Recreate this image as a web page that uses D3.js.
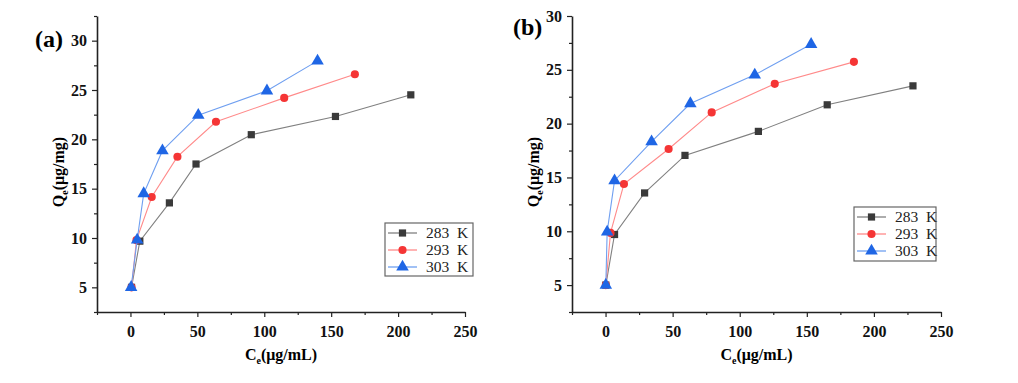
<!DOCTYPE html>
<html>
<head>
<meta charset="utf-8">
<script src="https://cdn.jsdelivr.net/npm/d3@7"></script>
<style>
  body { margin: 0; background: #fff; }
  svg { display: block; }
  .tick text { font-family: "Liberation Serif", "Times New Roman", serif; font-weight: bold; font-size: 16px; fill: #111; }
  .legend text { font-family: "Liberation Serif", serif; font-size: 15.5px; fill: #222; white-space: pre; }
</style>
</head>
<body>
<script>
// series names and tick values
const seriesNames = ["283\u2002K", "293\u2002K", "303\u2002K"];
const xTicks = [0, 50, 100, 150, 200, 250];
const yTicks = [5, 10, 15, 20, 25, 30];

// panel (a)
const ceA283 = [0.8, 7.0, 29.1, 49.0, 90.3, 153.2, 209.5];
const qeA283 = [5.0, 9.68, 13.56, 17.5, 20.47, 22.32, 24.51];
const ceA293 = [0.8, 4.5, 15.9, 35.1, 63.9, 114.9, 167.7];
const qeA293 = [5.0, 9.78, 14.16, 18.24, 21.78, 24.2, 26.6];
const ceA303 = [0.5, 5.0, 9.9, 23.9, 50.7, 102.0, 139.8];
const qeA303 = [5.0, 9.8, 14.5, 18.85, 22.45, 24.92, 27.95];

// panel (b)
const ceB283 = [0.2, 6.7, 29.1, 59.2, 113.9, 165.2, 229.1];
const qeB283 = [5.0, 9.7, 13.56, 17.05, 19.28, 21.75, 23.51];
const ceB293 = [0.2, 3.7, 13.7, 47.0, 79.1, 126.1, 185.1];
const qeB293 = [5.0, 9.85, 14.39, 17.64, 21.04, 23.7, 25.74];
const ceB303 = [0.2, 1.2, 6.7, 34.3, 63.2, 111.2, 153.2];
const qeB303 = [5.0, 9.94, 14.7, 18.32, 21.87, 24.53, 27.37];

const markerColor = ["#3a3a3a", "#f53535", "#1f66e5"];
const lineColor = ["#808080", "#ff8a8a", "#6f9ff0"];
const symbols = [d3.symbolSquare, d3.symbolCircle, d3.symbolTriangle];
const symSize = [52, 52, 68];

const svg = d3.select("body").append("svg")
    .attr("width", 1018)
    .attr("height", 383);

const panels = [
    { label: "(a)", left: 97, right: 465, top: 16, bottom: 312, yMax: 32.5,
      labelX: 35, labelY: 47, legX: 385, legY: 223, legW: 88, legH: 53,
      series: [[ceA283, qeA283], [ceA293, qeA293], [ceA303, qeA303]] },
    { label: "(b)", left: 572, right: 941, top: 16, bottom: 312, yMax: 30,
      labelX: 513, labelY: 35, legX: 854, legY: 207, legW: 82, legH: 54,
      series: [[ceB283, qeB283], [ceB293, qeB293], [ceB303, qeB303]] }
];

panels.forEach(function(p) {
    const x = d3.scaleLinear().domain([-25, 250]).range([p.left, p.right]);
    const y = d3.scaleLinear().domain([2.5, p.yMax]).range([p.bottom, p.top]);

    const g = svg.append("g");

    // minor ticks
    g.append("g")
        .attr("transform", "translate(0," + p.bottom + ")")
        .call(d3.axisBottom(x).tickValues([-25, 25, 75, 125, 175, 225]).tickSize(3).tickFormat(""))
        .call(a => a.select(".domain").remove())
        .selectAll("line").attr("stroke", "#222").attr("stroke-width", 1.2);
    const yMinor = d3.range(2.5, p.yMax + 0.01, 5);
    g.append("g")
        .attr("transform", "translate(" + p.left + ",0)")
        .call(d3.axisLeft(y).tickValues(yMinor).tickSize(3).tickFormat(""))
        .call(a => a.select(".domain").remove())
        .selectAll("line").attr("stroke", "#222").attr("stroke-width", 1.2);

    // major axes
    const xa = g.append("g")
        .attr("transform", "translate(0," + p.bottom + ")")
        .call(d3.axisBottom(x).tickValues(xTicks).tickSize(5).tickSizeOuter(0).tickPadding(9));
    const ya = g.append("g")
        .attr("transform", "translate(" + p.left + ",0)")
        .call(d3.axisLeft(y).tickValues(yTicks).tickSize(5).tickSizeOuter(0).tickPadding(5));
    [xa, ya].forEach(a => {
        a.select(".domain").attr("stroke", "#222").attr("stroke-width", 1.6);
        a.selectAll(".tick line").attr("stroke", "#222").attr("stroke-width", 1.2);
    });

    // axis titles
    const xt = g.append("text")
        .attr("x", (p.left + p.right) / 2)
        .attr("y", 360)
        .attr("text-anchor", "middle")
        .style("font-family", "'Liberation Serif', serif")
        .style("font-weight", "bold")
        .style("font-size", "16px");
    xt.append("tspan").text("C");
    xt.append("tspan").attr("dy", 4).style("font-size", "10px").text("e");
    xt.append("tspan").attr("dy", -4).text("(μg/mL)");

    const yt = g.append("text")
        .attr("transform", "translate(" + (p.left - 33) + "," + ((p.top + p.bottom) / 2 + 8) + ") rotate(-90)")
        .attr("text-anchor", "middle")
        .style("font-family", "'Liberation Serif', serif")
        .style("font-weight", "bold")
        .style("font-size", "16px");
    yt.append("tspan").text("Q");
    yt.append("tspan").attr("dy", 4).style("font-size", "10px").text("e");
    yt.append("tspan").attr("dy", -4).text("(μg/mg)");

    // panel label
    g.append("text")
        .attr("x", p.labelX)
        .attr("y", p.labelY)
        .style("font-family", "'Liberation Serif', serif")
        .style("font-weight", "bold")
        .style("font-size", "24px")
        .text(p.label);

    // series
    const line = d3.line().x(d => x(d[0])).y(d => y(d[1]));
    p.series.forEach(function(s, i) {
        const pts = s[0].map((c, j) => [c, s[1][j]]);
        g.append("path")
            .datum(pts)
            .attr("fill", "none")
            .attr("stroke", lineColor[i])
            .attr("stroke-width", 1.1)
            .attr("d", line);
        g.selectAll(".m" + i)
            .data(pts)
            .enter().append("path")
            .attr("class", "m" + i)
            .attr("transform", d => "translate(" + x(d[0]) + "," + y(d[1]) + ")")
            .attr("d", d3.symbol(symbols[i], symSize[i]))
            .attr("fill", markerColor[i]);
    });

    // legend
    const leg = g.append("g").attr("class", "legend")
        .attr("transform", "translate(" + p.legX + "," + p.legY + ")");
    leg.append("rect")
        .attr("width", p.legW)
        .attr("height", p.legH)
        .attr("fill", "#fff")
        .attr("stroke", "#666")
        .attr("stroke-width", 1.2);
    seriesNames.forEach(function(name, i) {
        const ry = 10 + i * 17;
        leg.append("line")
            .attr("x1", 3).attr("x2", 32)
            .attr("y1", ry).attr("y2", ry)
            .attr("stroke", lineColor[i])
            .attr("stroke-width", 1.3);
        leg.append("path")
            .attr("transform", "translate(17.5," + ry + ")")
            .attr("d", d3.symbol(symbols[i], symSize[i]))
            .attr("fill", markerColor[i]);
        leg.append("text")
            .attr("x", 41)
            .attr("y", ry + 5)
            .text(name);
    });
});
</script>
</body>
</html>
